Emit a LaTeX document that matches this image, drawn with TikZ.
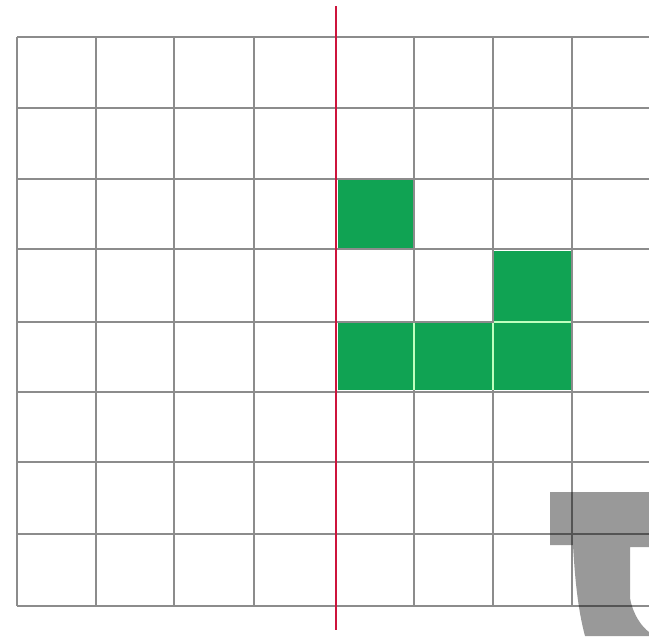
\documentclass[tikz,border=0pt]{standalone}
\usepackage{tikz}
\usepackage{xcolor}

\definecolor{cellgreen}{RGB}{16,163,83}
\definecolor{gridgray}{RGB}{140,140,140}
\definecolor{axisred}{RGB}{205,20,60}

\begin{document}
\begin{tikzpicture}[
    x=0.01cm, y=-0.01cm,
    gridline/.style={draw=gridgray, line width=0.75pt},
    filled/.style={fill=cellgreen},
    seam/.style={draw=green!25!white, line width=0.5pt},
    mirror/.style={draw=axisred, line width=0.8pt},
    stamp/.style={fill=black, opacity=0.4}
  ]

  \useasboundingbox (0,0) rectangle (649,636);

  % grid
  \foreach \y in {37,108,179,249,322,392,462,534,606}
    \draw[gridline] (17,\y) -- (649,\y);
  \foreach \x in {17,96,174,254,414,493,572}
    \draw[gridline] (\x,37) -- (\x,606);

  % green cells
  \fill[filled] (338,180) rectangle (413,248);
  \fill[filled] (494,251) rectangle (571,321);
  \fill[filled] (338,323) rectangle (571,390);
  \draw[seam] (414,323) -- (414,390);
  \draw[seam] (493,323) -- (493,390);
  \draw[seam] (494,322) -- (571,322);

  % mirror line
  \draw[mirror] (336,6) -- (336,630);

  % grey mark in the corner
  \fill[stamp] (550,492) -- (649,492) -- (649,547) -- (630,547) -- (630,598)
    .. controls (633,615) and (642,627) .. (649,632) -- (649,636) -- (585,636)
    .. controls (578,610) and (575,580) .. (573,545) -- (550,545) -- cycle;

\end{tikzpicture}
\end{document}
